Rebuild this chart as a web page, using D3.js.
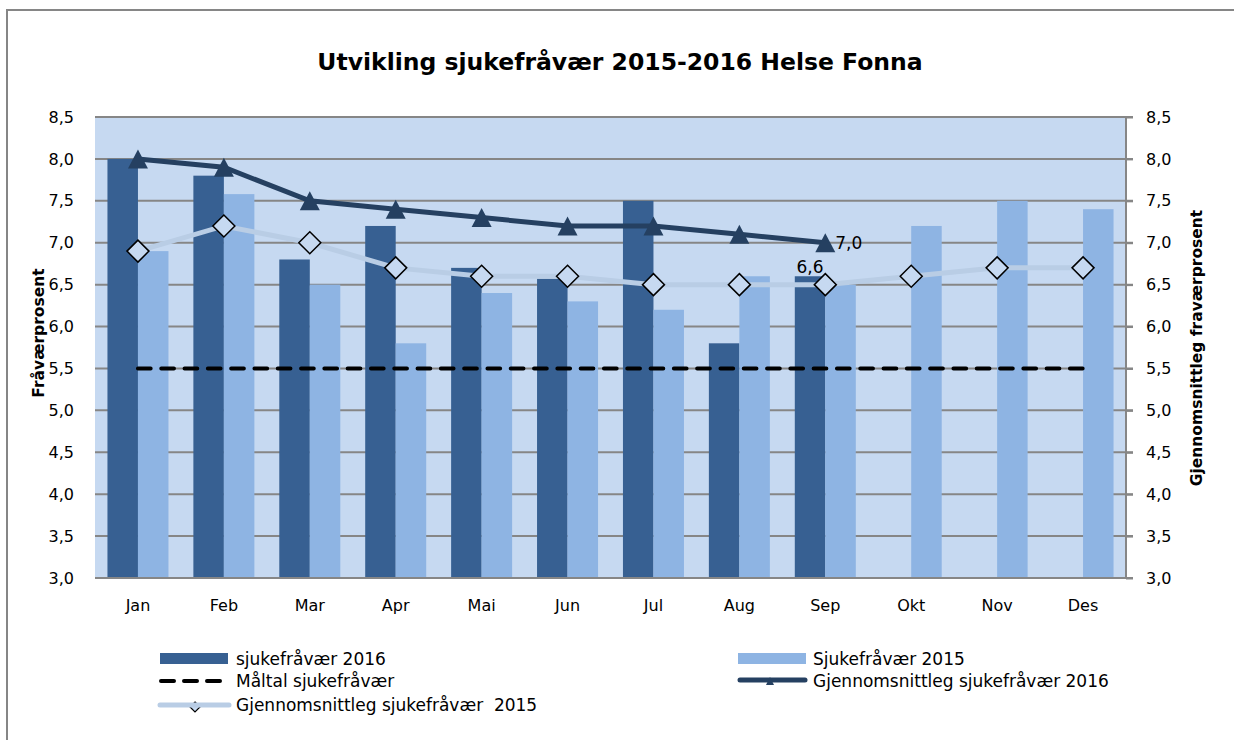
<html>

<head>
    <meta charset="utf-8">
    <title>Utvikling sjukefråvær 2015-2016 Helse Fonna</title>
    <style>
        body {
            padding: 0;
            margin: 0;
            background: white;
        }

        svg text {
            font-family: "DejaVu Sans", sans-serif;
            fill: black;
        }

        .grid line {
            stroke: #868686;
            stroke-width: 2;
        }

        .tick text {
            font-size: 16px;
        }
    </style>
</head>

<body>

    <div id="chart"></div>

    <script src="https://d3js.org/d3.v7.min.js"></script>

    <script>
        // data
        var months = ["Jan", "Feb", "Mar", "Apr", "Mai", "Jun", "Jul", "Aug", "Sep", "Okt", "Nov", "Des"];
        var sick2016 = [8.0, 7.8, 6.8, 7.2, 6.7, 6.57, 7.5, 5.8, 6.6, null, null, null];
        var sick2015 = [6.9, 7.58, 6.5, 5.8, 6.4, 6.3, 6.2, 6.6, 6.5, 7.2, 7.5, 7.4];
        var avg2016 = [8.0, 7.9, 7.5, 7.4, 7.3, 7.2, 7.2, 7.1, 7.0, null, null, null];
        var avg2015 = [6.9, 7.2, 7.0, 6.7, 6.6, 6.6, 6.5, 6.5, 6.5, 6.6, 6.7, 6.7];
        var target = 5.5;
        var yTicks = [3.0, 3.5, 4.0, 4.5, 5.0, 5.5, 6.0, 6.5, 7.0, 7.5, 8.0, 8.5];

        var width = 1234,
            height = 740;

        var plot = {
            left: 95,
            right: 1126,
            top: 117,
            bottom: 578
        };

        var colors = {
            bar2016: "#376092",
            bar2015: "#8EB4E3",
            avg2016: "#254061",
            avg2015: "#B9CDE5",
            plotBg: "#C6D9F1",
            grey: "#868686"
        };

        var fmt = function (d) {
            return d3.format(".1f")(d).replace(".", ",");
        };

        // excel-like markers, box centred on the point
        var triPath = "M0,-9.5L10,9.5L-10,9.5Z";
        var diaPath = "M0,-11L11,0L0,11L-11,0Z";

        var svg = d3.select("#chart")
            .append("svg")
            .attr("width", width)
            .attr("height", height);

        // chart frame
        svg.append("rect")
            .attr("x", 7)
            .attr("y", 10)
            .attr("width", width)
            .attr("height", height)
            .attr("fill", "white")
            .attr("stroke", colors.grey)
            .attr("stroke-width", 2);

        var x = d3.scaleBand()
            .domain(months)
            .range([plot.left, plot.right])
            .paddingInner(0.29)
            .paddingOuter(0.145);

        var x1 = d3.scaleBand()
            .domain(["2016", "2015"])
            .range([0, x.bandwidth()]);

        var y = d3.scaleLinear()
            .domain([3, 8.5])
            .range([plot.bottom, plot.top]);

        var cx = function (m) {
            return x(m) + x.bandwidth() / 2;
        };

        // plot background
        svg.append("rect")
            .attr("x", plot.left)
            .attr("y", plot.top)
            .attr("width", plot.right - plot.left)
            .attr("height", plot.bottom - plot.top)
            .attr("fill", colors.plotBg);

        // gridlines
        svg.append("g")
            .attr("class", "grid")
            .selectAll("line")
            .data(yTicks)
            .enter()
            .append("line")
            .attr("x1", plot.left)
            .attr("x2", plot.right + 7)
            .attr("y1", function (d) { return y(d); })
            .attr("y2", function (d) { return y(d); });

        // bars
        var barData = [];
        months.forEach(function (m, i) {
            if (sick2016[i] != null) barData.push({ m: m, s: "2016", v: sick2016[i] });
            if (sick2015[i] != null) barData.push({ m: m, s: "2015", v: sick2015[i] });
        });

        svg.append("g")
            .selectAll("rect")
            .data(barData)
            .enter()
            .append("rect")
            .attr("x", function (d) { return x(d.m) + x1(d.s); })
            .attr("width", x1.bandwidth())
            .attr("y", function (d) { return y(d.v); })
            .attr("height", function (d) { return y(3) - y(d.v); })
            .attr("fill", function (d) { return d.s == "2016" ? colors.bar2016 : colors.bar2015; });

        // axes
        var yLeft = d3.axisLeft(y).tickValues(yTicks).tickFormat(fmt).tickSize(0).tickPadding(21);
        svg.append("g")
            .attr("transform", "translate(" + plot.left + ",0)")
            .call(yLeft)
            .call(function (g) { g.select(".domain").remove(); });

        var yRight = d3.axisRight(y).tickValues(yTicks).tickFormat(fmt).tickSize(7).tickPadding(13);
        svg.append("g")
            .attr("transform", "translate(" + plot.right + ",0)")
            .call(yRight)
            .call(function (g) {
                g.select(".domain").attr("stroke", colors.grey).attr("stroke-width", 2).attr("d", "M0," + plot.top + "V" + plot.bottom);
                g.selectAll(".tick line").attr("stroke", colors.grey).attr("stroke-width", 2);
            });

        var xAxis = d3.axisBottom(x).tickSize(0).tickPadding(22);
        svg.append("g")
            .attr("transform", "translate(0," + plot.bottom + ")")
            .call(xAxis)
            .call(function (g) {
                g.select(".domain").attr("stroke", colors.grey).attr("stroke-width", 2).attr("d", "M" + plot.left + ",0H" + plot.right);
            });

        // target line
        var line = d3.line()
            .defined(function (d) { return d.v != null; })
            .x(function (d) { return cx(d.m); })
            .y(function (d) { return y(d.v); });

        svg.append("path")
            .datum(months.map(function (m) { return { m: m, v: target }; }))
            .attr("d", line)
            .attr("fill", "none")
            .attr("stroke", "black")
            .attr("stroke-width", 4)
            .attr("stroke-linecap", "round")
            .attr("stroke-dasharray", "12.7,10.6");

        // average 2015 line with diamonds
        var a15 = months.map(function (m, i) { return { m: m, v: avg2015[i] }; });
        svg.append("path")
            .datum(a15)
            .attr("d", line)
            .attr("fill", "none")
            .attr("stroke", colors.avg2015)
            .attr("stroke-width", 5);

        svg.append("g")
            .selectAll("path")
            .data(a15)
            .enter()
            .append("path")
            .attr("d", diaPath)
            .attr("transform", function (d) { return "translate(" + cx(d.m) + "," + y(d.v) + ")"; })
            .attr("fill", colors.plotBg)
            .attr("stroke", "black")
            .attr("stroke-width", 1.5);

        // average 2016 line with triangles
        var a16 = months.map(function (m, i) { return { m: m, v: avg2016[i] }; }).filter(function (d) { return d.v != null; });
        svg.append("path")
            .datum(a16)
            .attr("d", line)
            .attr("fill", "none")
            .attr("stroke", colors.avg2016)
            .attr("stroke-width", 5);

        svg.append("g")
            .selectAll("path")
            .data(a16)
            .enter()
            .append("path")
            .attr("d", triPath)
            .attr("transform", function (d) { return "translate(" + cx(d.m) + "," + y(d.v) + ")"; })
            .attr("fill", colors.avg2016);

        // data labels on Sep
        var last16 = a16[a16.length - 1];
        svg.append("text")
            .attr("x", cx(last16.m) + 10)
            .attr("y", y(last16.v) + 6)
            .attr("font-size", 17)
            .text(fmt(last16.v));

        svg.append("text")
            .attr("x", x("Sep") + x1("2016") + x1.bandwidth() / 2)
            .attr("y", y(sick2016[8]) - 3)
            .attr("text-anchor", "middle")
            .attr("font-size", 17)
            .text(fmt(sick2016[8]));

        // title
        svg.append("text")
            .attr("x", 620)
            .attr("y", 70)
            .attr("text-anchor", "middle")
            .attr("font-size", 23.5)
            .attr("font-weight", "bold")
            .text("Utvikling sjukefråvær 2015-2016 Helse Fonna");

        // axis titles
        svg.append("text")
            .attr("transform", "translate(44,333) rotate(-90)")
            .attr("text-anchor", "middle")
            .attr("font-size", 15.5)
            .attr("font-weight", "bold")
            .text("Fråværprosent");

        svg.append("text")
            .attr("transform", "translate(1202,348) rotate(-90)")
            .attr("text-anchor", "middle")
            .attr("font-size", 15.5)
            .attr("font-weight", "bold")
            .text("Gjennomsnittleg fraværprosent");

        // legend
        var legend = svg.append("g").attr("font-size", 17);

        legend.append("rect").attr("x", 160).attr("y", 653).attr("width", 68).attr("height", 11).attr("fill", colors.bar2016);
        legend.append("text").attr("x", 236).attr("y", 665).text("sjukefråvær 2016");

        legend.append("rect").attr("x", 738).attr("y", 653).attr("width", 68).attr("height", 11).attr("fill", colors.bar2015);
        legend.append("text").attr("x", 813).attr("y", 665).text("Sjukefråvær 2015");

        legend.append("line").attr("x1", 161).attr("x2", 220).attr("y1", 681).attr("y2", 681)
            .attr("stroke", "black").attr("stroke-width", 4).attr("stroke-linecap", "round").attr("stroke-dasharray", "13,10");
        legend.append("text").attr("x", 236).attr("y", 687).text("Måltal sjukefråvær");

        legend.append("line").attr("x1", 740).attr("x2", 805).attr("y1", 680).attr("y2", 680)
            .attr("stroke", colors.avg2016).attr("stroke-width", 5).attr("stroke-linecap", "round");
        legend.append("path").attr("d", "M0,-4L4,4L-4,4Z")
            .attr("transform", "translate(770,681)").attr("fill", colors.avg2016);
        legend.append("text").attr("x", 813).attr("y", 687).text("Gjennomsnittleg sjukefråvær 2016");

        legend.append("path").attr("d", "M0,-5L5,0L0,5L-5,0Z")
            .attr("transform", "translate(195,707)").attr("fill", colors.plotBg).attr("stroke", "black").attr("stroke-width", 1.2);
        legend.append("line").attr("x1", 160).attr("x2", 229).attr("y1", 705).attr("y2", 705)
            .attr("stroke", colors.avg2015).attr("stroke-width", 5).attr("stroke-linecap", "round");
        legend.append("text").attr("x", 236).attr("y", 711).style("white-space", "pre")
            .text("Gjennomsnittleg sjukefråvær  2015");
    </script>
</body>

</html>
